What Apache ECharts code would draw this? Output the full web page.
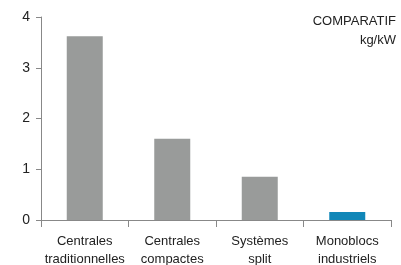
<!doctype html>
<html lang="fr">
<head>
    <meta charset="UTF-8">
    <title>Comparatif kg/kW</title>
    <script src="https://cdn.jsdelivr.net/npm/echarts@6/dist/echarts.min.js"></script>
    <style>
        html, body { margin: 0; padding: 0; background: #fff; }
    </style>
</head>
<body>
<div id="main" style="width:401px; height:265px;"></div>

<script>
    // catégories et valeurs (kg/kW)
    var categories = ['Centrales\ntraditionnelles', 'Centrales\ncompactes', 'Systèmes\nsplit', 'Monoblocs\nindustriels'];
    var values = [3.62, 1.6, 0.85, 0.16];
    var barColors = ['#999b9a', '#999b9a', '#999b9a', '#1187b8'];
    var yTicks = [0, 1, 2, 3, 4];

    var font = '"Liberation Sans", Arial, sans-serif';
    var myChart = echarts.init(document.getElementById('main'));

    myChart.setOption({
        animation: false,
        grid: { left: 41, right: 10, top: 17, bottom: 45, outerBoundsMode: 'none' },
        graphic: [{
            type: 'text',
            right: 5,
            top: 15,
            style: { text: 'COMPARATIF', font: '13px ' + font, fill: '#222' }
        }, {
            type: 'text',
            right: 5,
            top: 34,
            style: { text: 'kg/kW', font: '13px ' + font, fill: '#222' }
        }],
        xAxis: {
            type: 'category',
            data: categories,
            axisLine: { lineStyle: { color: '#888', width: 1 } },
            axisTick: { show: true, length: 7, interval: 0, lineStyle: { color: '#888' } },
            axisLabel: {
                interval: 0,
                color: '#222',
                fontFamily: font,
                fontSize: 13,
                lineHeight: 18,
                margin: 12
            }
        },
        yAxis: {
            type: 'value',
            min: yTicks[0],
            max: yTicks[yTicks.length - 1],
            interval: 1,
            splitLine: { show: false },
            axisLine: { show: true, lineStyle: { color: '#888', width: 1 } },
            axisTick: { show: true, length: 5, lineStyle: { color: '#888' } },
            axisLabel: {
                color: '#222',
                fontFamily: font,
                fontSize: 14,
                margin: 11
            }
        },
        series: [{
            type: 'bar',
            barWidth: 36,
            data: values.map(function (v, i) {
                return { value: v, itemStyle: { color: barColors[i] } };
            })
        }]
    });
</script>
</body>
</html>
